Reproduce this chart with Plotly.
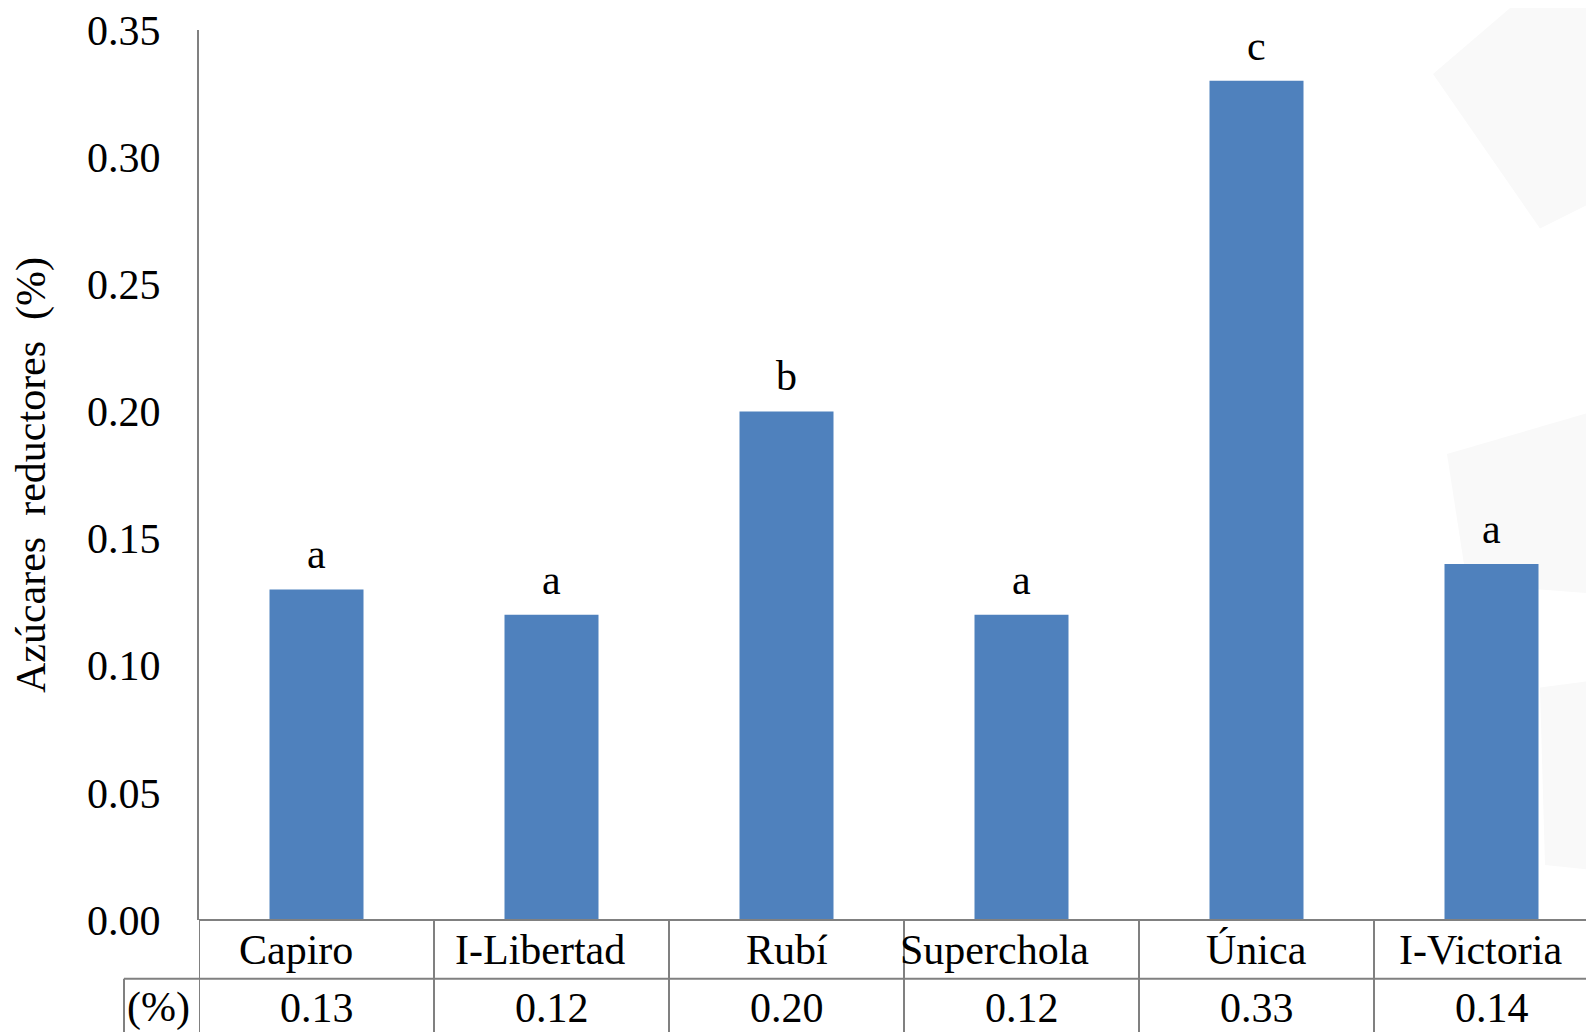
import plotly.graph_objects as go

categories = ["Capiro", "I-Libertad", "Rubí", "Superchola", "Única", "I-Victoria"]
values = [0.13, 0.12, 0.20, 0.12, 0.33, 0.14]
letters = ["a", "a", "b", "a", "c", "a"]
value_labels = ["0.13", "0.12", "0.20", "0.12", "0.33", "0.14"]
y_ticks = [0.00, 0.05, 0.10, 0.15, 0.20, 0.25, 0.30, 0.35]
row_label = "(%)"

# layout-only nudges reproducing the original's label placement in the table
label_xshift = {"Capiro": -21, "I-Libertad": -12, "Superchola": -27, "I-Victoria": -11}

OFF = 8  # browser body margin
PAGE_W, PAGE_H = 1594, 1032
W, H = PAGE_W - OFF, PAGE_H - OFF
L, R, T = 199 - OFF, 0, 28 - OFF
ZERO_Y = 920  # page pixel of the zero line
B = H - (ZERO_Y - OFF)
PW, PH = W - L - R, H - T - B
FONT = "Liberation Serif, Times New Roman, serif"
FS = 42
GRID = "#808080"

def py_paper(py):
    return (ZERO_Y - py) / PH

def px_paper(px):
    return (px - 199) / PW

fig = go.Figure()
fig.add_trace(go.Bar(
    x=list(range(len(categories))), y=values, width=0.4,
    marker=dict(color="#4F81BD", line=dict(width=0)),
    hoverinfo="skip",
))

shapes = []
# very faint watermark shapes of the background
wm = [
    [(1433, 72), (1517, 0), (1594, 0), (1594, 200), (1540, 227)],
    [(1447, 453), (1594, 410), (1594, 593), (1467, 583)],
    [(1540, 687), (1594, 680), (1594, 870), (1545, 865)],
]
for poly in wm:
    path = "M " + " L ".join(f"{px_paper(x)},{py_paper(y)}" for x, y in poly) + " Z"
    shapes.append(dict(type="path", path=path, xref="paper", yref="paper",
                       fillcolor="#f9f9f9", line=dict(width=0), layer="below"))

row1 = py_paper(979)
bottom = py_paper(1045)
shapes.append(dict(type="line", xref="paper", yref="paper", x0=0, x1=1.02, y0=0, y1=0,
                   line=dict(color=GRID, width=2)))
shapes.append(dict(type="line", xref="paper", yref="paper", x0=px_paper(124), x1=1.02,
                   y0=row1, y1=row1, line=dict(color=GRID, width=2)))
shapes.append(dict(type="line", xref="paper", yref="paper", x0=px_paper(124), x1=px_paper(124),
                   y0=row1, y1=bottom, line=dict(color=GRID, width=2)))
for i in range(len(categories) + 1):
    shapes.append(dict(type="line", xref="x", yref="paper", x0=i - 0.5, x1=i - 0.5,
                       y0=0, y1=bottom, line=dict(color=GRID, width=2)))

tf = dict(family=FONT, size=FS, color="black")
annotations = []
for i, (c, v, l, vl) in enumerate(zip(categories, values, letters, value_labels)):
    annotations.append(dict(x=i, y=v, xref="x", yref="y", text=l, showarrow=False,
                            xanchor="center", yanchor="bottom", yshift=10, font=tf))
    annotations.append(dict(x=i, y=py_paper(950), xref="x", yref="paper", text=c, showarrow=False,
                            xanchor="center", yanchor="middle", xshift=label_xshift.get(c, 0), font=tf))
    annotations.append(dict(x=i, y=py_paper(1008), xref="x", yref="paper", text=vl, showarrow=False,
                            xanchor="center", yanchor="middle", font=tf))
annotations.append(dict(x=px_paper(158), y=py_paper(1008), xref="paper", yref="paper", text=row_label,
                        showarrow=False, xanchor="center", yanchor="middle", font=tf))

fig.update_layout(
    width=W, height=H,
    margin=dict(l=L, r=R, t=T, b=B, pad=0),
    paper_bgcolor="white", plot_bgcolor="rgba(0,0,0,0)",
    showlegend=False,
    shapes=shapes, annotations=annotations,
    font=tf,
    xaxis=dict(range=[-0.5, -0.5 + PW / 235.0], showticklabels=False, showgrid=False,
               zeroline=False, showline=False, ticks=""),
    yaxis=dict(range=[0, 0.35], tickvals=y_ticks, ticktext=[f"{t:.2f}" for t in y_ticks],
               showgrid=False, zeroline=False, showline=True, linecolor=GRID, linewidth=2,
               ticks="", ticklabelstandoff=28, ticklabeloverflow="allow", tickfont=tf,
               title=dict(text="Azúcares\u00a0 reductores\u00a0 (%)", font=tf, standoff=30)),
)

fig.write_html("out.html")
